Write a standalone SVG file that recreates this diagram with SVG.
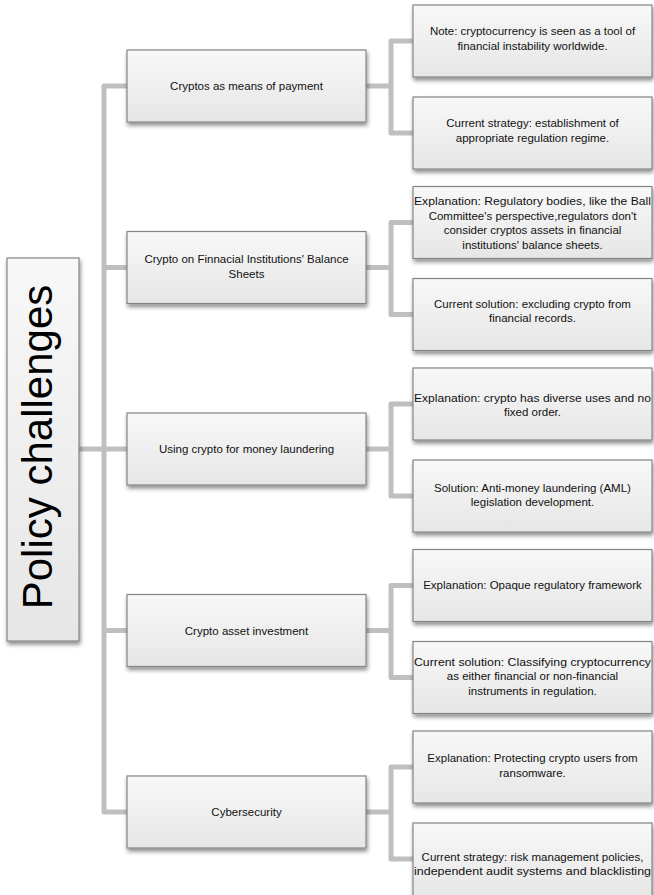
<svg xmlns="http://www.w3.org/2000/svg" width="654" height="895" viewBox="0 0 654 895">
<defs>
<linearGradient id="g" x1="0" y1="0" x2="0" y2="1">
<stop offset="0" stop-color="#f8f8f8"/>
<stop offset="1" stop-color="#e6e6e6"/>
</linearGradient>
<filter id="sh" x="-10%" y="-10%" width="125%" height="130%">
<feGaussianBlur in="SourceAlpha" stdDeviation="2"/>
<feOffset dx="1" dy="3" result="b"/>
<feComponentTransfer><feFuncA type="linear" slope="0.45"/></feComponentTransfer>
<feMerge><feMergeNode/><feMergeNode in="SourceGraphic"/></feMerge>
</filter>
</defs>
<style>
.box{fill:url(#g);stroke:#858585;stroke-width:1.2;filter:url(#sh)}
.t{font-family:"Liberation Sans",Arial,sans-serif;font-size:11.5px;fill:#111;text-anchor:middle}
.root{font-family:"Liberation Sans",Arial,sans-serif;font-size:42px;fill:#000;text-anchor:middle}
.c{fill:none;stroke:#bfbfbf;stroke-width:5;stroke-linejoin:round}
</style>
<g id="connectors">
<path class="c" d="M79 449H104"/>
<path class="c" d="M127 86H104V812H127M104 267.5H127M104 449H127M104 630.5H127"/>
<path class="c" d="M366 86H391M413 41H391V133H413"/>
<path class="c" d="M366 267.5H391M413 222.5H391V314.5H413"/>
<path class="c" d="M366 449H391M413 404H391V496H413"/>
<path class="c" d="M366 630.5H391M413 585.5H391V677.5H413"/>
<path class="c" d="M366 812H391M413 767H391V859H413"/>
</g>
<g id="root">
<rect class="box" x="7" y="258" width="72" height="383"/>
<text class="root" transform="translate(52,447) rotate(-90)">Policy challenges</text>
</g>
<g id="m1"><rect class="box" x="127" y="50" width="239" height="72"/>
<text class="t" x="246.5" y="90">Cryptos as means of payment</text></g>
<g id="m2"><rect class="box" x="127" y="231.5" width="239" height="72"/>
<text class="t" x="246.5" y="263">Crypto on Finnacial Institutions' Balance</text>
<text class="t" x="246.5" y="278">Sheets</text></g>
<g id="m3"><rect class="box" x="127" y="413" width="239" height="72"/>
<text class="t" x="246.5" y="453">Using crypto for money laundering</text></g>
<g id="m4"><rect class="box" x="127" y="594.5" width="239" height="72"/>
<text class="t" x="246.5" y="634.5">Crypto asset investment</text></g>
<g id="m5"><rect class="box" x="127" y="776" width="239" height="72"/>
<text class="t" x="246.5" y="816">Cybersecurity</text></g>

<g id="r1a"><rect class="box" x="413" y="5" width="239" height="72"/>
<text class="t" x="532.5" y="35">Note: cryptocurrency is seen as a tool of</text>
<text class="t" x="532.5" y="50">financial instability worldwide.</text></g>
<g id="r1b"><rect class="box" x="413" y="97" width="239" height="72"/>
<text class="t" x="532.5" y="127">Current strategy: establishment of</text>
<text class="t" x="532.5" y="142">appropriate regulation regime.</text></g>
<g id="r2a"><rect class="box" x="413" y="186.5" width="239" height="72"/>
<text class="t" x="532.5" y="205" textLength="237" lengthAdjust="spacingAndGlyphs">Explanation: Regulatory bodies, like the Ball</text>
<text class="t" x="532.5" y="219.5">Committee's perspective,regulators don't</text>
<text class="t" x="532.5" y="234">consider cryptos assets in financial</text>
<text class="t" x="532.5" y="248.5">institutions' balance sheets.</text></g>
<g id="r2b"><rect class="box" x="413" y="278.5" width="239" height="72"/>
<text class="t" x="532.5" y="307.5">Current solution: excluding crypto from</text>
<text class="t" x="532.5" y="322">financial records.</text></g>
<g id="r3a"><rect class="box" x="413" y="368" width="239" height="72"/>
<text class="t" x="532.5" y="401.5" textLength="237" lengthAdjust="spacingAndGlyphs">Explanation: crypto has diverse uses and no</text>
<text class="t" x="532.5" y="416">fixed order.</text></g>
<g id="r3b"><rect class="box" x="413" y="460" width="239" height="72"/>
<text class="t" x="532.5" y="491.5">Solution: Anti-money laundering (AML)</text>
<text class="t" x="532.5" y="506">legislation development.</text></g>
<g id="r4a"><rect class="box" x="413" y="549.5" width="239" height="72"/>
<text class="t" x="532.5" y="588.5">Explanation: Opaque regulatory framework</text></g>
<g id="r4b"><rect class="box" x="413" y="641.5" width="239" height="72"/>
<text class="t" x="532.5" y="665.5" textLength="237" lengthAdjust="spacingAndGlyphs">Current solution: Classifying cryptocurrency</text>
<text class="t" x="532.5" y="680">as either financial or non-financial</text>
<text class="t" x="532.5" y="694.5">instruments in regulation.</text></g>
<g id="r5a"><rect class="box" x="413" y="731" width="239" height="72"/>
<text class="t" x="532.5" y="762">Explanation: Protecting crypto users from</text>
<text class="t" x="532.5" y="776.5">ransomware.</text></g>
<g id="r5b"><rect class="box" x="413" y="823" width="239" height="74"/>
<text class="t" x="532.5" y="860.5">Current strategy: risk management policies,</text>
<text class="t" x="532.5" y="875" textLength="237" lengthAdjust="spacingAndGlyphs">independent audit systems and blacklisting</text></g>
</svg>
